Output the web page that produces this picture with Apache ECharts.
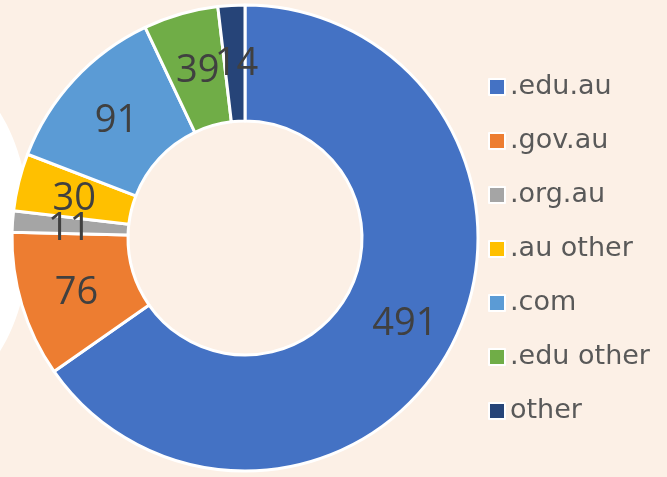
<!DOCTYPE html>
<html>
<head>
<meta charset="utf-8">
<script src="https://cdn.jsdelivr.net/npm/echarts@6/dist/echarts.min.js"></script>
<style>
  html, body { margin: 0; padding: 0; background: #fcf0e6; }
  #chart { width: 667px; height: 477px; }
</style>
</head>
<body>
<div id="chart"></div>
<script>
var categories = ['.edu.au', '.gov.au', '.org.au', '.au other', '.com', '.edu other', 'other'];
var counts = [491, 76, 11, 30, 91, 39, 14];
var colors = ['#4472C4', '#ED7D31', '#A5A5A5', '#FFC000', '#5B9BD5', '#70AD47', '#264478'];

var myChart = echarts.init(document.getElementById('chart'));
var option = {
    backgroundColor: '#fcf0e6',
    color: colors,
    animation: false,
    graphic: [
        {
            type: 'ellipse',
            shape: { cx: -60, cy: 232, rx: 90, ry: 160 },
            style: { fill: '#ffffff' },
            z: -1
        }
    ],
    legend: {
        orient: 'vertical',
        left: 483,
        top: 67,
        icon: 'rect',
        itemWidth: 16,
        itemHeight: 16,
        itemGap: 24,
        itemStyle: { borderColor: '#fff', borderWidth: 2 },
        textStyle: {
            color: '#595959',
            fontSize: 27,
            lineHeight: 30,
            fontFamily: 'DejaVu Sans'
        },
        data: categories
    },
    series: [
        {
            type: 'pie',
            center: [245, 238],
            radius: [117, 233],
            startAngle: 90,
            clockwise: true,
            avoidLabelOverlap: false,
            minShowLabelAngle: 0,
            itemStyle: { borderColor: '#fff', borderWidth: 3 },
            label: {
                show: true,
                position: 'inside',
                formatter: '{c}',
                color: '#404040',
                fontSize: 38,
                fontFamily: 'Open Sans',
                offset: [2, 4]
            },
            labelLine: { show: false },
            labelLayout: { hideOverlap: false },
            emphasis: { disabled: true },
            data: categories.map(function (name, i) {
                return { name: name, value: counts[i] };
            })
        }
    ]
};
myChart.setOption(option, true);
</script>
</body>
</html>
